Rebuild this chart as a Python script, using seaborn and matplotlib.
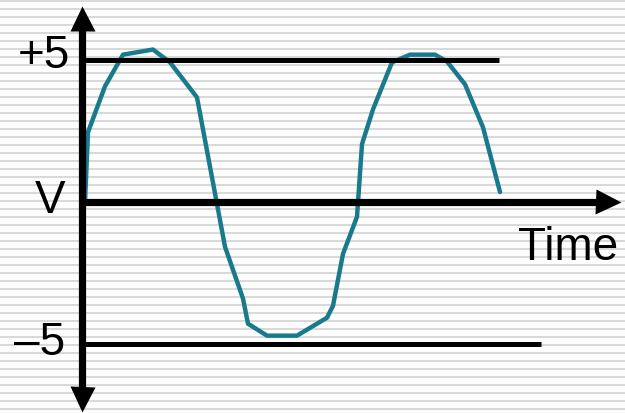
import numpy as np
import pandas as pd
import seaborn as sns
import matplotlib.pyplot as plt

# Sine-like voltage trace (time in arbitrary units, volts)
time = [0.0, 0.3, 2.0, 3.8, 6.8, 8.5, 11.2, 14.0, 15.8, 16.3, 18.2, 21.2,
        24.2, 24.8, 25.8, 27.2, 27.7, 28.8, 30.7, 32.5, 35.0, 36.2, 38.0,
        39.8, 41.5]
volts = [0.0, 2.45, 4.06, 5.17, 5.35, 4.90, 3.67, -1.57, -3.39, -4.27,
         -4.69, -4.69, -4.06, -3.64, -1.82, -0.52, 2.03, 3.25, 4.90, 5.17,
         5.17, 4.93, 4.13, 2.62, 0.35]

# reference levels and their labels
ref_levels = [5, -5]
ref_ends = [41.4, 45.6]
ref_labels = ["+5", "\u20135"]

sns.set_style("white")
plt.rcParams['font.family'] = ['Liberation Sans', 'DejaVu Sans']

fig = plt.figure(figsize=(6.25, 4.14), dpi=100)
ax = fig.add_axes([0, 0, 1, 1])
ax.set_xlim(-8.5, 54.0)
ax.set_ylim(-7.404, 7.123)
ax.axis('off')

# striped background
for k in range(52):
    ax.axhline((203 - (1.7 + 8 * k)) / 28.5, color='#d9d9d9', lw=1.5, zorder=0)

df = pd.DataFrame({'time': time, 'volts': volts})
sns.lineplot(data=df, x='time', y='volts', color='#1a7a8d', lw=3.2,
             estimator=None, sort=False, ax=ax, zorder=2)

# reference lines
for lvl, end in zip(ref_levels, ref_ends):
    ax.plot([-0.3, end], [lvl, lvl], color='black', lw=3.6,
            solid_capstyle='butt', zorder=3)

# axes with arrowheads
ax.plot([-0.3, -0.3], [6.3, -6.8], color='black', lw=5.2,
        solid_capstyle='butt', zorder=4)
ax.plot([-0.3, 52.0], [0, 0], color='black', lw=5.2,
        solid_capstyle='butt', zorder=4)
ax.plot(-0.3, 6.44, marker='^', ms=18, color='black', mec='none', zorder=5)
ax.plot(-0.3, -6.91, marker='v', ms=18, color='black', mec='none', zorder=5)
ax.plot(52.3, 0, marker='>', ms=18, color='black', mec='none', zorder=5)

# labels
ax.text(-1.5, (203 - 68) / 28.5, ref_labels[0], fontsize=33, ha='right',
        va='baseline', color='black')
ax.text(-2.0, (203 - 355) / 28.5, ref_labels[1], fontsize=33, ha='right',
        va='baseline', color='black')
ax.text(-3.5, (203 - 213) / 28.5, "V", fontsize=33, ha='center',
        va='baseline', color='black')
ax.text(53.3, (203 - 260) / 28.5, "Time", fontsize=33, ha='right',
        va='baseline', color='black')

fig.savefig('out.png', dpi=100)
